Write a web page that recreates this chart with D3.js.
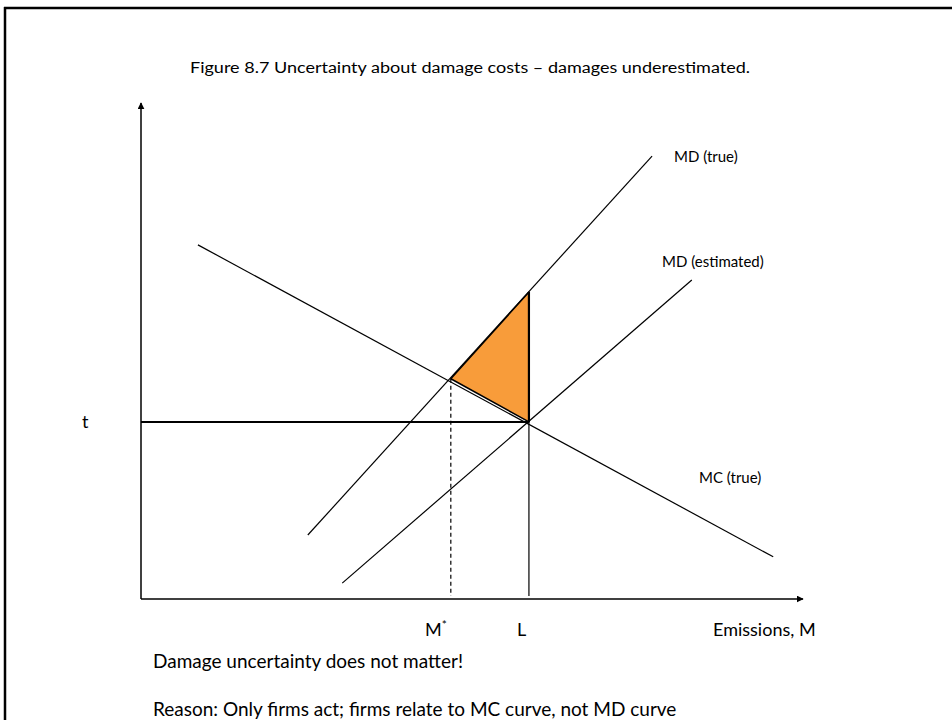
<!DOCTYPE html>
<html><head><meta charset="utf-8">
<script src="https://cdn.jsdelivr.net/npm/d3@7"></script>
<style>body{margin:0;background:#fff}svg{display:block}text{font-family:Lato,"Open Sans",sans-serif;fill:#000}</style>
</head><body><svg id="c" width="952" height="720"></svg>
<script>
// Data (economic units: emissions 0-100, cost 0-100)
const curveNames = ["MC (true)", "MD (true)", "MD (estimated)"];
const curveX1 = [8.6, 25.2, 30.4];
const curveY1 = [71.4, 12.9, 3.2];
const curveX2 = [95.5, 77.2, 83.2];
const curveY2 = [8.5, 89.3, 64.3];
const mStar = 46.8;      // M*
const lCap = 58.6;       // L
const tTax = 35.7;       // t
const interY = 44.4;     // MC ∩ MD(true) height at M*
const mdTrueAtL = 61.9;  // MD(true) at L
const axisLabels = ["M", "L", "Emissions, M", "t"];
const title = "Figure 8.7  Uncertainty about damage costs – damages underestimated.";
const notes = ["Damage uncertainty does not matter!", "Reason: Only firms act; firms relate to MC curve, not MD curve"];

const svg = d3.select("#c");
const x = d3.scaleLinear().domain([0, 100]).range([141, 803]);
const y = d3.scaleLinear().domain([0, 100]).range([599, 103]);

// frame
svg.append("line").attr("x1", 4).attr("x2", 952).attr("y1", 8).attr("y2", 8).attr("stroke", "#000").attr("stroke-width", 2.5);
svg.append("line").attr("x1", 5).attr("x2", 5).attr("y1", 7).attr("y2", 720).attr("stroke", "#000").attr("stroke-width", 2.5);

const defs = svg.append("defs");
defs.append("marker").attr("id", "arr").attr("viewBox", "0 0 10 10").attr("refX", 9).attr("refY", 5)
  .attr("markerWidth", 7).attr("markerHeight", 7).attr("markerUnits", "userSpaceOnUse").attr("orient", "auto")
  .append("path").attr("d", "M0,0L10,5L0,10z").attr("fill", "#000");

// triangle
svg.append("path")
  .attr("d", d3.line()([[x(mStar), y(interY)], [x(lCap), y(mdTrueAtL)], [x(lCap), y(tTax)]]) + "Z")
  .attr("fill", "#f89c3a").attr("stroke", "#000").attr("stroke-width", 1.5).attr("stroke-linejoin", "round");

// axes
svg.append("line").attr("x1", x(0)).attr("y1", y(0)).attr("x2", x(0)).attr("y2", y(100))
  .attr("stroke", "#000").attr("stroke-width", 1.5).attr("marker-end", "url(#arr)");
svg.append("line").attr("x1", x(0)).attr("y1", y(0)).attr("x2", x(100)).attr("y2", y(0))
  .attr("stroke", "#000").attr("stroke-width", 1.5).attr("marker-end", "url(#arr)");

// curves
curveNames.forEach((n, i) => {
  svg.append("line").attr("x1", x(curveX1[i])).attr("y1", y(curveY1[i]))
    .attr("x2", x(curveX2[i])).attr("y2", y(curveY2[i]))
    .attr("stroke", "#000").attr("stroke-width", 1.2);
});

// t line
svg.append("line").attr("x1", x(0)).attr("x2", x(lCap)).attr("y1", y(tTax)).attr("y2", y(tTax))
  .attr("stroke", "#000").attr("stroke-width", 2);
// L vertical
svg.append("line").attr("x1", x(lCap)).attr("x2", x(lCap)).attr("y1", y(mdTrueAtL)).attr("y2", y(0) - 3)
  .attr("stroke", "#000").attr("stroke-width", 1.2);
svg.append("line").attr("x1", x(lCap)).attr("x2", x(lCap)).attr("y1", y(mdTrueAtL)).attr("y2", y(tTax))
  .attr("stroke", "#000").attr("stroke-width", 2.2);
// M* dashed
svg.append("line").attr("x1", x(mStar)).attr("x2", x(mStar)).attr("y1", y(interY)).attr("y2", y(0) - 3)
  .attr("stroke", "#000").attr("stroke-width", 1.2).attr("stroke-dasharray", "4,3");

// labels
const labPos = [[699, 483], [674, 162], [662, 267]];
curveNames.forEach((n, i) => {
  svg.append("text").attr("x", labPos[i][0]).attr("y", labPos[i][1]).attr("font-size", 15).text(n);
});
svg.append("text").attr("x", 190).attr("y", 73).attr("font-size", 15.5)
  .attr("textLength", 560).attr("lengthAdjust", "spacingAndGlyphs").text(title);

const ms = svg.append("text").attr("x", 425).attr("y", 636).attr("font-size", 18);
ms.append("tspan").text(axisLabels[0]);
ms.append("tspan").attr("dy", -7).attr("font-size", 12).text("*");
svg.append("text").attr("x", 517).attr("y", 636).attr("font-size", 18).text(axisLabels[1]);
svg.append("text").attr("x", 713).attr("y", 636).attr("font-size", 18).text(axisLabels[2]);
svg.append("text").attr("x", 82).attr("y", 428).attr("font-size", 18).text(axisLabels[3]);

svg.append("text").attr("x", 153).attr("y", 668).attr("font-size", 19).text(notes[0]);
svg.append("text").attr("x", 153).attr("y", 716).attr("font-size", 19).text(notes[1]);
</script></body></html>
